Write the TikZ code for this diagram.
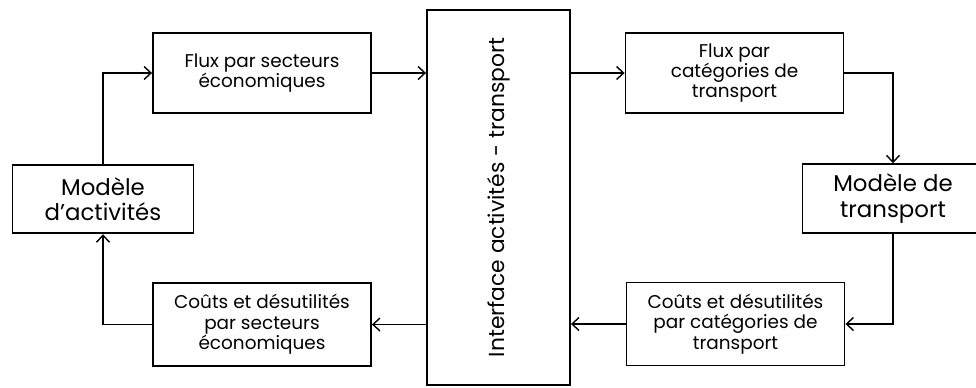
\documentclass[tikz,border=0pt]{standalone}
\usepackage{fontspec}
\setmainfont{Poppins}
\usetikzlibrary{arrows.meta}

\begin{document}
\begin{tikzpicture}[
x=0.02cm, y=-0.02cm,
box/.style={draw, line width=1.1pt, align=center, inner sep=0pt},
small/.style={box, font=\fontsize{10.5}{11.6}\selectfont, minimum width=4.36cm, minimum height=1.6cm},
big/.style={box, font=\fontsize{13}{14.4}\selectfont, minimum width=3.62cm, minimum height=1.37cm},
flow/.style={line width=0.8pt, -{Straight Barb[length=1.4mm, width=2.6mm]}}
]
\useasboundingbox (0,0) rectangle (976,387);

% models
\node[big] (act) at (103,199) {Modèle\\d'activités};
\node[big] (trans) at (893,198.5) {Modèle de\\transport};

% interface
\node[box, minimum width=2.86cm, minimum height=7.5cm,
  font=\fontsize{12.4}{14}\selectfont] (inter) at (498.5,197.5)
  {\rotatebox{90}{Interface activités - transport}};

% flows and costs
\node[small] (fluxsec) at (262,73) {Flux par secteurs\\économiques};
\node[small] (fluxcat) at (734.5,73) {Flux par\\catégories de\\transport};
\node[small, minimum height=1.66cm] (coutsec) at (262,324.5) {Coûts et désutilités\\par secteurs\\économiques};
\node[small, minimum height=1.66cm] (coutcat) at (735.5,324) {Coûts et désutilités\\par catégories de\\transport};

\draw[flow] (act.north) |- (fluxsec.west);
\draw[flow] (fluxsec.east) -- (inter.west |- fluxsec.east);
\draw[flow] (inter.east |- fluxcat.west) -- (fluxcat.west);
\draw[flow] (fluxcat.east) -| (trans.north);
\draw[flow] (trans.south) |- (coutcat.east);
\draw[flow] (coutcat.west) -- (inter.east |- coutcat.west);
\draw[flow] (inter.west |- coutsec.east) -- (coutsec.east);
\draw[flow] (coutsec.west) -| (act.south);
\end{tikzpicture}
\end{document}
